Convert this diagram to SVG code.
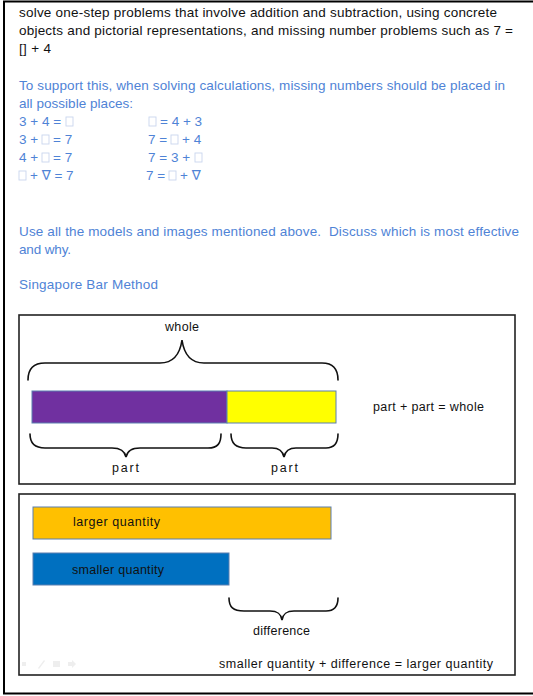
<svg xmlns="http://www.w3.org/2000/svg" width="533" height="696" viewBox="0 0 533 696">
<style>
.t{font-family:"Liberation Sans","DejaVu Sans",sans-serif;font-size:13.5px;fill:#111}
.b{font-family:"Liberation Sans","DejaVu Sans",sans-serif;font-size:13.5px;fill:#4f83d6}
.s{font-family:"Liberation Sans","DejaVu Sans",sans-serif;font-size:12.5px;fill:#111}
.box{fill:#fff;stroke:#222;stroke-width:1.6}
.br{fill:none;stroke:#111;stroke-width:1.6;stroke-linecap:round}
.bar{stroke:#5a7fb0;stroke-width:1}
.sq{fill:none;stroke:#c9d6ee;stroke-width:0.9}
</style>
<rect x="0" y="0" width="533" height="696" fill="#fff"/>
<path d="M533 1.5H4V693.5H533" fill="none" stroke="#000" stroke-width="2"/>
<g id="intro">
<text class="t" x="19" y="17" textLength="478" lengthAdjust="spacing">solve one-step problems that involve addition and subtraction, using concrete</text>
<text class="t" x="19" y="35" textLength="494" lengthAdjust="spacing">objects and pictorial representations, and missing number problems such as 7 =</text>
<text class="t" x="19" y="53" textLength="32" lengthAdjust="spacing">[] + 4</text>
</g>
<g id="support">
<text class="b" x="19" y="90" textLength="486" lengthAdjust="spacing">To support this, when solving calculations, missing numbers should be placed in</text>
<text class="b" x="19" y="108" textLength="114" lengthAdjust="spacing">all possible places:</text>
<text class="b" x="19" y="126">3 + 4 =</text><rect class="sq" x="66" y="117" width="7" height="9"/>
<text class="b" x="19" y="144">3 +</text><rect class="sq" x="42" y="135" width="7" height="9"/><text class="b" x="53" y="144">= 7</text>
<text class="b" x="19" y="162">4 +</text><rect class="sq" x="42" y="153" width="7" height="9"/><text class="b" x="53" y="162">= 7</text>
<rect class="sq" x="19" y="171" width="7" height="9"/><text class="b" x="30" y="180">+ ∇ = 7</text>
<rect class="sq" x="149" y="117" width="7" height="9"/><text class="b" x="160" y="126">= 4 + 3</text>
<text class="b" x="148" y="144">7 =</text><rect class="sq" x="171" y="135" width="7" height="9"/><text class="b" x="182" y="144">+ 4</text>
<text class="b" x="148" y="162">7 = 3 +</text><rect class="sq" x="195" y="153" width="7" height="9"/>
<text class="b" x="146" y="180">7 =</text><rect class="sq" x="169" y="171" width="7" height="9"/><text class="b" x="180" y="180">+ ∇</text>
</g>
<g id="discuss">
<text class="b" x="19" y="236" textLength="500" lengthAdjust="spacing">Use all the models and images mentioned above.&#160; Discuss which is most effective</text>
<text class="b" x="19" y="254" textLength="52" lengthAdjust="spacing">and why.</text>
<text class="b" x="19" y="289" textLength="139" lengthAdjust="spacing">Singapore Bar Method</text>
</g>
<g id="part-whole">
<rect class="box" x="19" y="315" width="496" height="169"/>
<text class="s" x="165" y="331" textLength="34" lengthAdjust="spacing">whole</text>
<path class="br" d="M28 380C28 370 33 363 45 363H160C174 363 180 354 182 340C184 354 190 363 204 363H322C334 363 338 370 338 380"/>
<rect class="bar" x="32" y="391" width="195" height="32" fill="#7030a0"/>
<rect class="bar" x="227" y="391" width="109" height="32" fill="#ffff00"/>
<text class="s" x="373" y="411" textLength="111" lengthAdjust="spacing">part + part = whole</text>
<path class="br" d="M30 434C30 443 34 448 45 448H112C121 448 125 452 126 457C127 452 131 448 140 448H208C218 448 221 443 221 434"/>
<path class="br" d="M231 434C231 443 235 448 246 448H272C280 448 283 452 284 457C285 452 288 448 296 448H326C334 448 338 443 338 434"/>
<text class="s" x="112" y="472" textLength="27" lengthAdjust="spacing">part</text>
<text class="s" x="271" y="472" textLength="27" lengthAdjust="spacing">part</text>
</g>
<g id="difference">
<rect class="box" x="19" y="494" width="496" height="181"/>
<rect class="bar" x="33" y="507" width="298" height="32" fill="#ffc000"/>
<text class="s" x="73" y="526" textLength="87" lengthAdjust="spacing">larger quantity</text>
<rect class="bar" x="33" y="553" width="196" height="32" fill="#0070c0"/>
<text class="s" x="72" y="574" textLength="92" lengthAdjust="spacing">smaller quantity</text>
<path class="br" d="M229 598C229 607 233 611 244 611H270C278 611 281 614 282 620C283 614 286 611 294 611H326C334 611 338 607 338 598"/>
<text class="s" x="253" y="635" textLength="57" lengthAdjust="spacing">difference</text>
<text class="s" x="219" y="668" textLength="274" lengthAdjust="spacing">smaller quantity + difference = larger quantity</text>
<g fill="#eee" stroke="none">
<path d="M22 662h4v4h-4z"/>
<path d="M38 668l6-8l1 1l-6 8z"/>
<rect x="53" y="661" width="7" height="6"/>
<path d="M68 662h4v-2l4 4l-4 4v-2h-4z"/>
</g>
</g>
</svg>
